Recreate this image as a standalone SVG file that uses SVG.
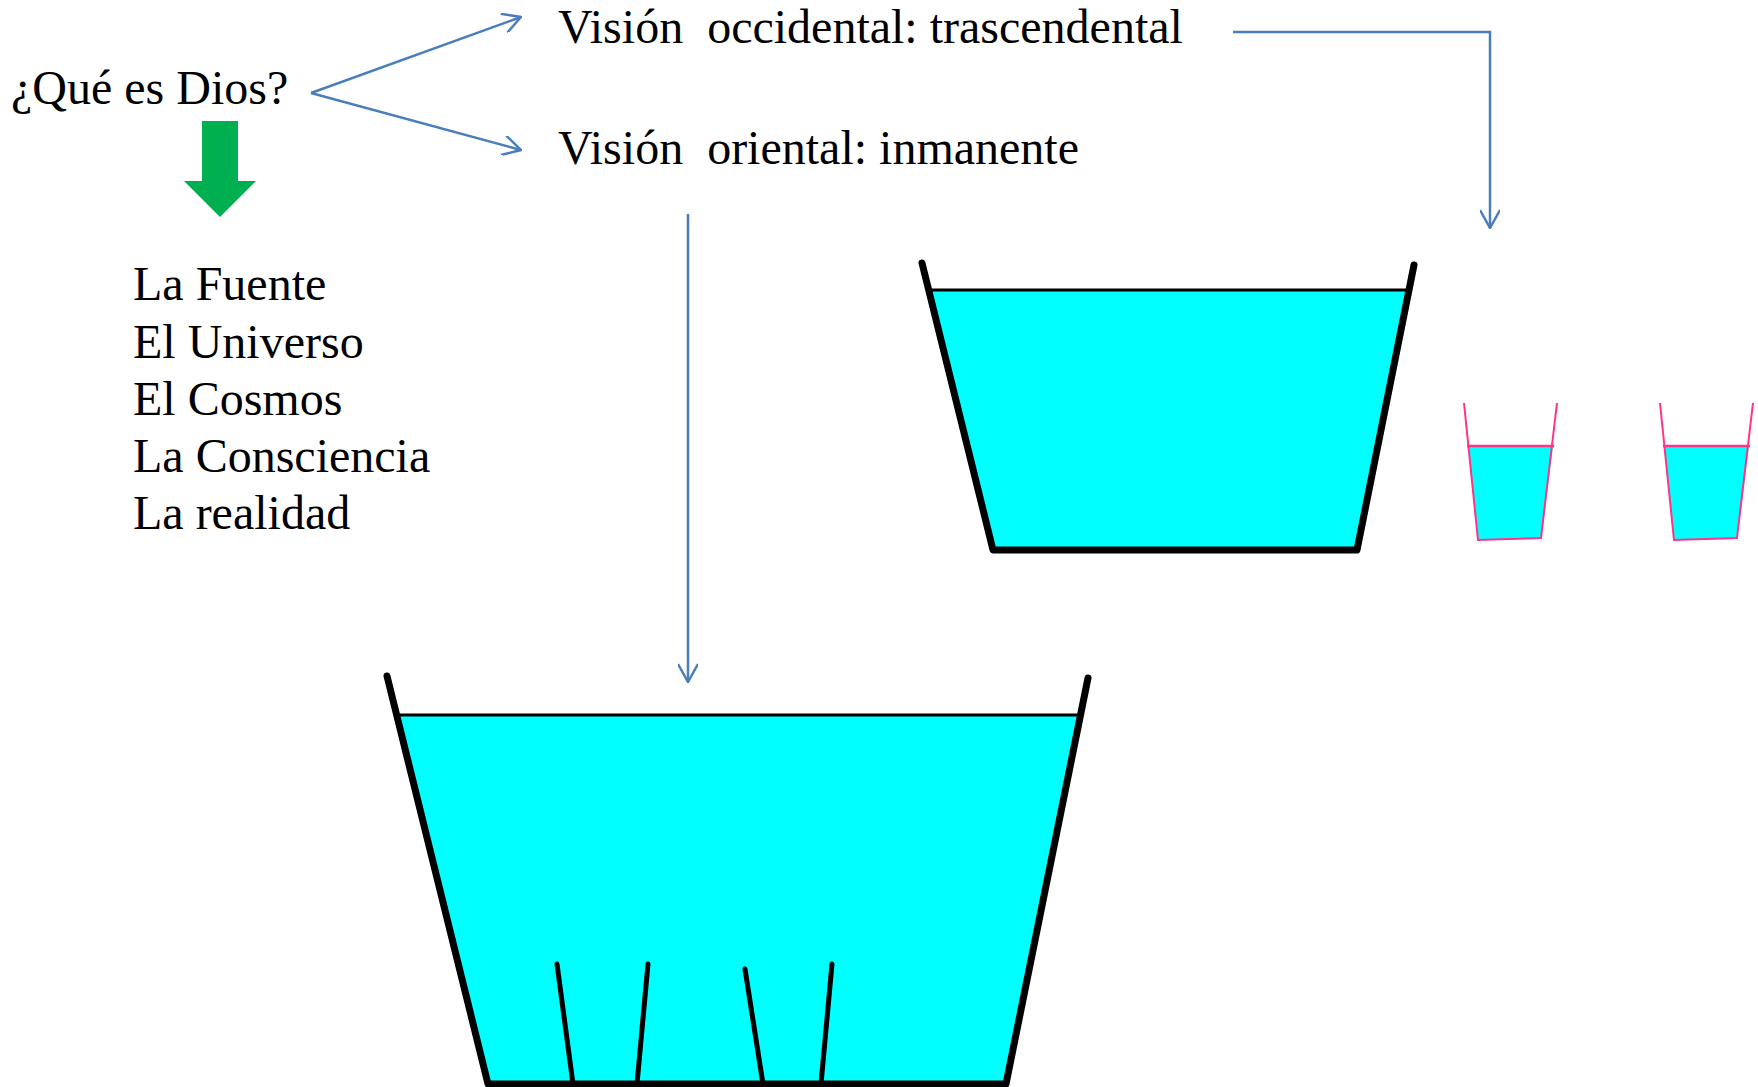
<svg xmlns="http://www.w3.org/2000/svg" width="1758" height="1087" viewBox="0 0 1758 1087">
<defs>
<style>
.t{font-family:"Liberation Serif","Times New Roman",serif;font-size:48px;fill:#000;white-space:pre}
.c{fill:none;stroke:#4A7EBB;stroke-width:2.5}
.water{fill:#00FFFF;stroke:none}
.rim{fill:none;stroke:#000;stroke-width:7;stroke-linecap:round;stroke-linejoin:round}
.wl{stroke:#000;stroke-width:3}
.stick{stroke:#000;stroke-width:5;stroke-linecap:round}
.cup{fill:none;stroke:#FF3388;stroke-width:2}
.cupwl{stroke:#FF3388;stroke-width:2.5}
</style>
<marker id="arr" viewBox="0 0 20 20" refX="19" refY="10" markerWidth="20" markerHeight="20" markerUnits="userSpaceOnUse" orient="auto">
<path d="M1,0 L19,10 L1,20" fill="none" stroke="#4A7EBB" stroke-width="2.5"/>
</marker>
</defs>
<rect width="1758" height="1087" fill="#fff"/>

<g id="connectors">
<path class="c" d="M311,93 L521,17" marker-end="url(#arr)"/>
<path class="c" d="M311,93 L521,150" marker-end="url(#arr)"/>
<path class="c" d="M1233,32 H1490 V228" marker-end="url(#arr)"/>
<path class="c" d="M688,214 V682" marker-end="url(#arr)"/>
</g>

<g id="question">
<text class="t" x="11" y="104">¿Qué es Dios?</text>
</g>

<g id="green-arrow">
<polygon points="202,121 238,121 238,181 256,181 220,217 184,181 202,181" fill="#00B050"/>
</g>

<g id="list">
<text class="t" x="133" y="300">La Fuente</text>
<text class="t" x="133" y="358">El Universo</text>
<text class="t" x="133" y="415">El Cosmos</text>
<text class="t" x="133" y="472">La Consciencia</text>
<text class="t" x="133" y="529">La realidad</text>
</g>

<g id="vision-occidental">
<text class="t" x="558" y="43">Visión  occidental: trascendental</text>
</g>

<g id="vision-oriental">
<text class="t" x="558" y="164">Visión  oriental: inmanente</text>
</g>

<g id="top-bucket">
<polygon class="water" points="929,290 1409,290 1357,550 993,550"/>
<line class="wl" x1="929" y1="290" x2="1409" y2="290"/>
<polyline class="rim" points="922,263 993,550 1357,550 1414,265"/>
</g>

<g id="cup-1">
<polygon class="water" points="1468,446 1553,446 1541,539 1478,540"/>
<line class="cupwl" x1="1467" y1="446" x2="1554" y2="446"/>
<polyline class="cup" points="1464,403 1478,540 1541,538 1557,403"/>
</g>

<g id="cup-2">
<polygon class="water" points="1664,446 1749,446 1737,539 1674,540"/>
<line class="cupwl" x1="1663" y1="446" x2="1750" y2="446"/>
<polyline class="cup" points="1660,403 1674,540 1737,538 1753,403"/>
</g>

<g id="bottom-bucket">
<polygon class="water" points="394,715 1082,715 1006,1084 488,1084"/>
<line class="wl" x1="394" y1="715" x2="1082" y2="715"/>
<polyline class="rim" points="387,676 488,1084 1006,1084 1088,678"/>
<line class="stick" x1="557" y1="964" x2="573" y2="1084"/>
<line class="stick" x1="648" y1="964" x2="637" y2="1084"/>
<line class="stick" x1="745" y1="969" x2="763" y2="1084"/>
<line class="stick" x1="832" y1="964" x2="821" y2="1084"/>
</g>
</svg>
